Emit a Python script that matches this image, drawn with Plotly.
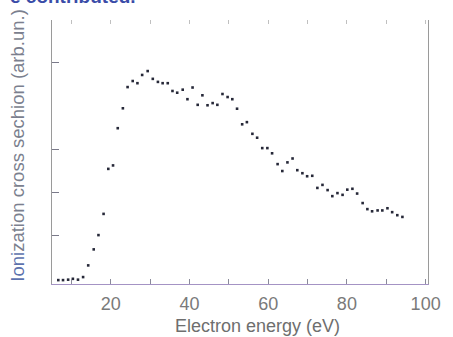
import plotly.graph_objects as go

# Electron energy (eV) and measured ionization cross section (arb. units)
energy = [6.7, 7.9, 9.2, 10.4, 11.7, 13.0, 14.3, 15.7, 16.9, 18.2,
          19.4, 20.6, 21.8, 23.1, 24.3, 25.6, 26.8, 28.0, 29.4, 30.7,
          32.0, 33.2, 34.5, 35.7, 36.9, 38.3, 39.5, 40.8, 42.1, 43.3,
          44.6, 45.9, 47.1, 48.4, 49.7, 50.9, 52.1, 53.4, 54.6, 56.0,
          57.2, 58.5, 59.8, 61.0, 62.4, 63.6, 64.9, 66.2, 67.4, 68.7,
          69.9, 71.2, 72.5, 73.8, 75.1, 76.3, 77.6, 78.9, 80.1, 81.4,
          82.6, 84.0, 85.2, 86.4, 87.8, 89.0, 90.3, 91.5, 92.8, 94.1]
cross_section = [-0.02, -0.02, -0.01, 0.01, -0.01, 0.05, 0.32, 0.69, 1.02, 1.51,
                 2.55, 2.63, 3.49, 3.95, 4.44, 4.58, 4.53, 4.72, 4.81, 4.63,
                 4.56, 4.53, 4.53, 4.35, 4.31, 4.38, 4.16, 4.43, 4.03, 4.25,
                 4.02, 4.07, 4.03, 4.28, 4.21, 4.16, 3.94, 3.58, 3.63, 3.36,
                 3.27, 3.03, 3.03, 2.91, 2.66, 2.50, 2.70, 2.79, 2.52, 2.45,
                 2.38, 2.39, 2.11, 2.18, 2.06, 1.92, 1.99, 1.95, 2.07, 2.09,
                 1.98, 1.76, 1.62, 1.57, 1.59, 1.59, 1.64, 1.55, 1.48, 1.44]

x_ticks = [10, 20, 30, 40, 50, 60, 70, 80, 90, 100]
x_tick_text = ["", "20", "", "40", "", "60", "", "80", "", "100"]
y_ticks = [1, 2, 3, 5]

fig = go.Figure()
fig.add_trace(go.Scatter(
    x=energy, y=cross_section, mode="markers",
    marker=dict(symbol="square", size=2.6, color="#262838"),
    showlegend=False,
))
# invisible trace carrying the top tick axis
fig.add_trace(go.Scatter(x=[energy[0]], y=[cross_section[0]], xaxis="x2",
                         mode="markers", marker=dict(opacity=0), showlegend=False,
                         hoverinfo="skip"))

fig.update_layout(
    width=453, height=337,
    margin=dict(l=52, r=18, t=20, b=53),
    paper_bgcolor="white", plot_bgcolor="white",
    font=dict(family="Liberation Sans, Arial, sans-serif", color="#777777"),
    xaxis=dict(range=[5.1, 100.6], tickvals=x_ticks, ticktext=x_tick_text,
               ticks="inside", ticklen=5, tickcolor="#8a8a9a", tickwidth=1,
               showline=True, linecolor="#a493c4", linewidth=1.3,
               showgrid=False, zeroline=False, ticklabelstandoff=3,
               tickfont=dict(size=18, color="#7a7a7a")),
    xaxis2=dict(overlaying="x", side="top", matches="x", range=[5.1, 100.6],
                tickvals=x_ticks, ticks="inside", ticklen=4, tickcolor="#c0c0c0",
                showticklabels=False, showline=False, showgrid=False, zeroline=False),
    yaxis=dict(range=[-0.11, 5.99], tickvals=y_ticks, showticklabels=False,
               ticks="inside", ticklen=7, tickcolor="#7a7a8a", tickwidth=1,
               showline=True, linecolor="#9a9a9a", linewidth=1, mirror=True,
               showgrid=False, zeroline=False),
)

fig.add_annotation(xref="paper", yref="paper", x=0.546, y=-0.112,
                   text="Electron energy (eV)", showarrow=False,
                   yanchor="top", xanchor="center",
                   font=dict(size=18, color="#6e6e6e"))
fig.add_annotation(xref="paper", yref="paper", x=-0.091, y=0.527,
                   text="<span style='color:#5d72ad'>Ioni</span>zation cross sechion (arb.un.)",
                   showarrow=False, textangle=-90, xanchor="center", yanchor="middle",
                   font=dict(size=18.5, color="#7b7f8e"))
fig.add_annotation(xref="paper", yref="paper", x=-0.118, y=1.04,
                   text="<b>e contributed.</b>", showarrow=False,
                   xanchor="left", yanchor="bottom",
                   font=dict(size=19, color="#3a4ca8"))

fig.write_html("out.html")
